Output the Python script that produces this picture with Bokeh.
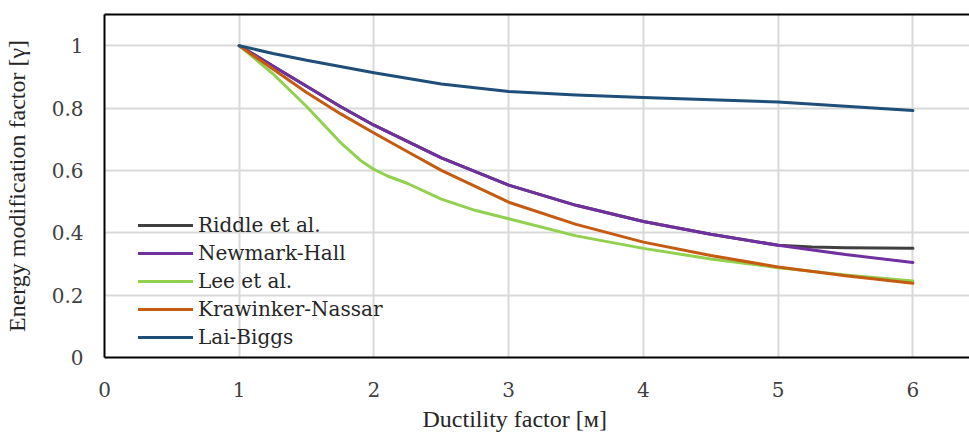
from bokeh.plotting import figure
from bokeh.models import Range1d, FixedTicker, LinearAxis, Legend, LegendItem, CustomJSTickFormatter, Title
from bokeh.embed import file_html
from bokeh.resources import INLINE

# ---- data ----
mu_riddle = [1, 1.25, 1.5, 1.75, 2, 2.5, 3, 3.5, 4, 4.5, 5, 5.25, 5.5, 6]
g_riddle = [1.0, 0.935, 0.87, 0.805, 0.745, 0.64, 0.553, 0.488, 0.436, 0.395, 0.36, 0.354, 0.352, 0.35]

mu_nh = [1, 1.25, 1.5, 1.75, 2, 2.5, 3, 3.5, 4, 4.5, 5, 5.5, 6]
g_nh = [1.0, 0.935, 0.87, 0.805, 0.745, 0.64, 0.553, 0.488, 0.436, 0.395, 0.36, 0.33, 0.305]

mu_lee = [1, 1.25, 1.5, 1.75, 1.9, 2, 2.1, 2.25, 2.5, 2.75, 3, 3.5, 4, 4.5, 5, 5.5, 6]
g_lee = [1.0, 0.91, 0.805, 0.69, 0.632, 0.603, 0.582, 0.558, 0.508, 0.472, 0.445, 0.39, 0.35, 0.316, 0.288, 0.265, 0.245]

mu_kn = [1, 1.25, 1.5, 1.75, 2, 2.25, 2.5, 3, 3.5, 4, 4.5, 5, 5.5, 6]
g_kn = [1.0, 0.925, 0.85, 0.782, 0.72, 0.66, 0.6, 0.498, 0.427, 0.37, 0.327, 0.29, 0.262, 0.238]

mu_lb = [1, 1.25, 1.5, 2, 2.5, 3, 3.5, 4, 4.5, 5, 5.5, 6]
g_lb = [1.0, 0.975, 0.953, 0.913, 0.877, 0.853, 0.842, 0.834, 0.827, 0.819, 0.806, 0.792]

series_names = ["Riddle et al.", "Newmark-Hall", "Lee et al.", "Krawinker-Nassar", "Lai-Biggs"]
series_colors = ["#404040", "#7030a0", "#92d050", "#c55a11", "#1f4e79"]

x_ticks = [0, 1, 2, 3, 4, 5, 6]
y_ticks = [0, 0.2, 0.4, 0.6, 0.8, 1.0]

x_title = "Ductility  factor [м]"
y_title = "Energy modification factor [γ]"

TITLE_FONT = "serif"
SMALL_FONT = "DejaVu Serif"
TICK_COLOR = "#404040"
TEXT_COLOR = "#262626"

p = figure(width=969, height=435, output_backend="svg", toolbar_location=None,
           x_range=Range1d(0, 6.42), y_range=Range1d(0, 1.1),
           min_border_left=104, min_border_right=0, min_border_top=14, min_border_bottom=78)
p.outline_line_color = None
p.background_fill_color = "white"
p.border_fill_color = "white"

# axes
p.xaxis.ticker = FixedTicker(ticks=x_ticks)
p.yaxis.ticker = FixedTicker(ticks=y_ticks)
p.yaxis.formatter = CustomJSTickFormatter(code="return String(Math.round(tick*10)/10);")
for ax in (p.xaxis[0], p.yaxis[0]):
    ax.axis_line_color = "black"
    ax.axis_line_width = 2
    ax.major_tick_line_color = None
    ax.minor_tick_line_color = None
    ax.major_tick_out = 0
    ax.major_tick_in = 0
    ax.major_label_text_font = SMALL_FONT
    ax.major_label_text_font_style = "normal"
    ax.major_label_text_font_size = "20px"
    ax.major_label_text_color = TICK_COLOR
    ax.axis_label_text_font = TITLE_FONT
    ax.axis_label_text_font_size = "24px"
    ax.axis_label_text_font_style = "normal"
    ax.axis_label_text_color = TEXT_COLOR
p.yaxis.axis_label = y_title
p.xaxis.major_label_standoff = 24
p.xaxis.major_label_text_line_height = 0.75
p.yaxis.major_label_standoff = 21
p.yaxis.axis_label_standoff = 19

top_axis = LinearAxis(ticker=FixedTicker(ticks=[]), axis_line_color="black", axis_line_width=2,
                      major_tick_line_color=None, minor_tick_line_color=None,
                      major_tick_out=0, minor_tick_out=0, major_label_standoff=0,
                      major_label_text_font_size="0px")
p.add_layout(top_axis, "above")

# x-axis title, placed like the reference (left part of the bottom panel)
x_label = Title(text=x_title, align="left", offset=318, standoff=8,
                text_font=TITLE_FONT, text_font_size="24px", text_font_style="normal",
                text_color=TEXT_COLOR)
p.add_layout(x_label, "below")

# grid
p.xgrid.grid_line_color = "#d9d9d9"
p.xgrid.grid_line_width = 2
p.ygrid.grid_line_color = "#d9d9d9"
p.ygrid.grid_line_width = 2

# lines
data = [(mu_riddle, g_riddle), (mu_nh, g_nh), (mu_lee, g_lee), (mu_kn, g_kn), (mu_lb, g_lb)]
items = []
for (xs, ys), name, color in zip(data, series_names, series_colors):
    r = p.line(xs, ys, line_color=color, line_width=3, line_join="round", line_cap="round")
    items.append(LegendItem(label=name, renderers=[r]))

legend = Legend(items=items, location=(34, 6), background_fill_alpha=0, border_line_color=None,
                padding=0, margin=0, spacing=0, glyph_width=55, glyph_height=28, label_height=28,
                label_standoff=5, label_text_font=SMALL_FONT, label_text_font_style="normal",
                label_text_font_size="20px", label_text_color=TEXT_COLOR)
p.add_layout(legend)

open("out.html", "w").write(file_html(p, INLINE))
